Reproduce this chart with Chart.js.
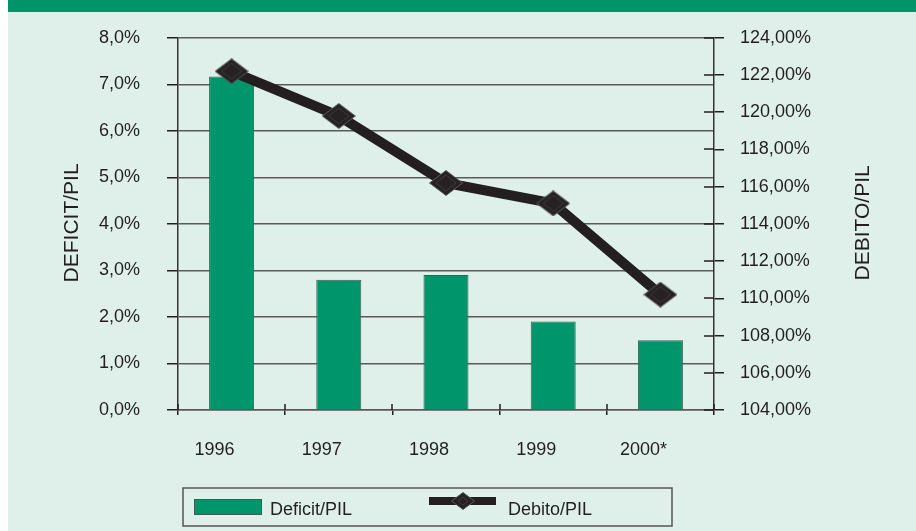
<!DOCTYPE html>
<html>
<head>
<meta charset="utf-8">
<script src="https://cdn.jsdelivr.net/npm/chart.js@4/dist/chart.umd.min.js"></script>
<style>
    body { margin: 0; background: #ffffff; }
    #wrap { position: absolute; left: 8px; top: 0; width: 908px; height: 531px; background: #dff0ea; }
</style>
</head>
<body>
<div id="wrap"><canvas id="grafica" width="908" height="531"></canvas></div>
<script>
const anni = ['1996', '1997', '1998', '1999', '2000*'];
const deficitPil = [7.17, 2.8, 2.9, 1.9, 1.5];
const debitoPil = [122.2, 119.8, 116.2, 115.1, 110.2];
const deficitTicks = [0, 1, 2, 3, 4, 5, 6, 7, 8];
const debitoTicks = [104, 106, 108, 110, 112, 114, 116, 118, 120, 122, 124];

const colors = {
    verde: '#00956a',
    banda: '#009468',
    linea: '#231f20',
    testo: '#231f20',
    griglia: '#5a5a5a'
};
const fontBase = 'Liberation Sans, Arial, sans-serif';

// rombo dei punti, un po' più largo che alto come nell'originale
function rombo(w, h) {
    const c = document.createElement('canvas');
    c.width = w;
    c.height = h;
    const g = c.getContext('2d');
    g.beginPath();
    g.moveTo(w / 2, 0.5);
    g.lineTo(w - 0.5, h / 2);
    g.lineTo(w / 2, h - 0.5);
    g.lineTo(0.5, h / 2);
    g.closePath();
    g.fillStyle = '#262223';
    g.fill();
    g.strokeStyle = '#5b5b5b';
    g.lineWidth = 1;
    g.stroke();
    g.beginPath();
    g.moveTo(w / 2, 5);
    g.lineTo(w - 7, h / 2);
    g.lineTo(w / 2, h - 5);
    g.lineTo(7, h / 2);
    g.closePath();
    g.strokeStyle = '#3d3b3b';
    g.stroke();
    return c;
}
const puntoGrande = rombo(34, 26);
const puntoLegenda = rombo(24, 18);

// banda verde in alto, titoli degli assi, tacche interne e legenda
const decorazioni = {
    id: 'decorazioni',
    beforeDraw(chart) {
        const ctx = chart.ctx;
        ctx.save();
        ctx.fillStyle = colors.banda;
        ctx.fillRect(0, 0, chart.width, 12);
        ctx.restore();
    },
    afterDatasetsDraw(chart) {
        const ctx = chart.ctx;
        const x = chart.scales.x;
        const y2 = chart.scales.y2;
        ctx.save();
        ctx.strokeStyle = colors.testo;
        ctx.lineWidth = 1.5;
        ctx.beginPath();
        // tacche dell'asse x verso l'interno
        for (let i = 0; i <= anni.length; i++) {
            const px = Math.round(x.getPixelForValue(i - 0.5));
            ctx.moveTo(px, x.top);
            ctx.lineTo(px, x.top - 6);
        }
        // tacche dell'asse destro verso l'interno
        debitoTicks.forEach(v => {
            const py = Math.round(y2.getPixelForValue(v));
            ctx.moveTo(y2.left, py);
            ctx.lineTo(y2.left - 10, py);
        });
        ctx.stroke();
        ctx.restore();
    },
    afterDraw(chart) {
        const ctx = chart.ctx;
        const area = chart.chartArea;
        const midY = (area.top + area.bottom) / 2 - 1;
        ctx.save();
        ctx.fillStyle = colors.testo;
        ctx.font = '21px ' + fontBase;
        ctx.textAlign = 'center';
        ctx.textBaseline = 'middle';
        ctx.translate(64, midY);
        ctx.rotate(-Math.PI / 2);
        ctx.fillText('DEFICIT/PIL', 0, 0);
        ctx.restore();

        ctx.save();
        ctx.fillStyle = colors.testo;
        ctx.font = '21px ' + fontBase;
        ctx.textAlign = 'center';
        ctx.textBaseline = 'middle';
        ctx.translate(855, midY);
        ctx.rotate(-Math.PI / 2);
        ctx.fillText('DEBITO/PIL', 0, 0);
        ctx.restore();

        // legenda con cornice
        ctx.save();
        ctx.strokeStyle = '#555555';
        ctx.lineWidth = 1.5;
        ctx.strokeRect(175, 488, 489, 38);
        ctx.fillStyle = colors.verde;
        ctx.fillRect(186, 499, 68, 16);
        ctx.strokeStyle = '#3c5f52';
        ctx.lineWidth = 1;
        ctx.strokeRect(186.5, 499.5, 67, 15);
        ctx.fillStyle = colors.linea;
        ctx.fillRect(421, 497, 67, 8);
        ctx.drawImage(puntoLegenda, 455 - 12, 501 - 9);
        ctx.fillStyle = colors.testo;
        ctx.font = '18px ' + fontBase;
        ctx.textAlign = 'left';
        ctx.textBaseline = 'middle';
        ctx.fillText('Deficit/PIL', 262, 510);
        ctx.fillText('Debito/PIL', 500, 510);
        ctx.restore();
    }
};

const ctx = document.getElementById('grafica');

new Chart(ctx, {
    type: 'bar',
    data: {
        labels: anni,
        datasets: [
            {
                type: 'line',
                label: 'Debito/PIL',
                data: debitoPil,
                yAxisID: 'y2',
                borderColor: colors.linea,
                borderWidth: 10,
                pointStyle: puntoGrande,
                pointRadius: 13,
                tension: 0,
                clip: false,
                order: 0
            },
            {
                label: 'Deficit/PIL',
                data: deficitPil,
                yAxisID: 'y',
                backgroundColor: colors.verde,
                borderColor: '#3c5f52',
                borderWidth: 1,
                barPercentage: 0.42,
                categoryPercentage: 1,
                order: 1
            }
        ]
    },
    options: {
        responsive: false,
        animation: false,
        layout: { padding: { top: 36, left: 0, right: 0, bottom: 0 } },
        plugins: {
            legend: { display: false },
            tooltip: { enabled: false }
        },
        scales: {
            x: {
                afterFit(scale) { scale.height = 121; },
                grid: {
                    offset: true,
                    drawOnChartArea: false,
                    tickLength: 5,
                    tickColor: colors.testo,
                    lineWidth: 1.5
                },
                border: { color: colors.griglia, width: 1.5 },
                ticks: {
                    color: colors.testo,
                    font: { family: fontBase, size: 18 },
                    padding: 24,
                    labelOffset: -17,
                    maxRotation: 0
                }
            },
            y: {
                position: 'left',
                min: 0,
                max: 8,
                afterFit(scale) { scale.width = 170; },
                afterBuildTicks(scale) { scale.ticks = deficitTicks.map(v => ({ value: v })); },
                grid: {
                    color: colors.griglia,
                    lineWidth: 1.5,
                    tickLength: 11,
                    tickColor: colors.testo
                },
                border: { color: '#333333', width: 1.5 },
                ticks: {
                    color: colors.testo,
                    font: { family: fontBase, size: 18 },
                    padding: 27,
                    callback: v => v.toFixed(1).replace('.', ',') + '%'
                }
            },
            y2: {
                position: 'right',
                min: 104,
                max: 124,
                afterFit(scale) { scale.width = 202; },
                afterBuildTicks(scale) { scale.ticks = debitoTicks.map(v => ({ value: v })); },
                grid: {
                    drawOnChartArea: false,
                    lineWidth: 1.5,
                    tickLength: 10,
                    tickColor: colors.testo
                },
                border: { color: '#333333', width: 1.5 },
                ticks: {
                    color: colors.testo,
                    font: { family: fontBase, size: 18 },
                    padding: 16,
                    callback: v => v.toFixed(2).replace('.', ',') + '%'
                }
            }
        }
    },
    plugins: [decorazioni]
});
</script>
</body>
</html>
